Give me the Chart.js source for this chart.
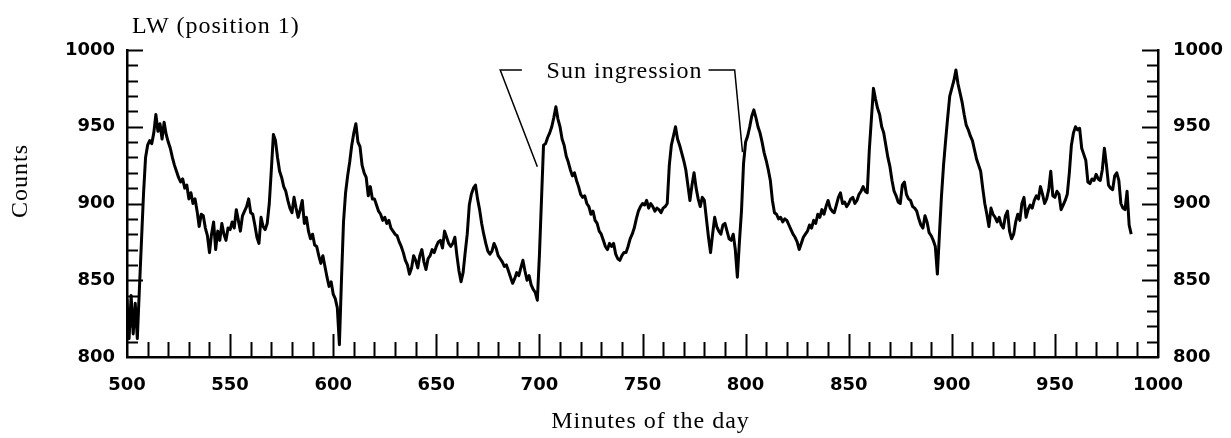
<!DOCTYPE html>
<html>
<head>
<meta charset="utf-8">
<title>LW (position 1)</title>
<script src="https://cdn.jsdelivr.net/npm/chart.js@4.4.1/dist/chart.umd.min.js"></script>
<style>
  html, body { margin: 0; padding: 0; background: #fff; }
  canvas { display: block; }
</style>
</head>
<body>
<canvas id="lwChart" width="1231" height="438"></canvas>
<script>
// Counts, one sample per minute starting at minute 500
const startMinute = 500;
const counts = [
  838, 812, 840, 815, 835, 812, 844, 875, 906, 930,
  938, 941, 939, 946, 958, 947, 952, 942, 953, 945,
  940, 936, 930, 925, 921, 917, 914, 916, 910, 912,
  903, 907, 900, 903, 895, 885, 893, 892, 884, 879,
  868, 880, 888, 870, 882, 876, 887, 880, 876, 884,
  883, 888, 884, 896, 889, 882, 892, 895, 898, 903,
  894, 893, 886, 878, 874, 891, 885, 883, 887, 900,
  922, 945, 941, 930, 921, 917, 911, 908, 902, 897,
  894, 904, 897, 891, 896, 902, 887, 891, 882, 877,
  880, 873, 872, 866, 861, 866, 859, 852, 846, 849,
  841, 838, 832, 808, 850, 888, 907, 918, 927, 938,
  946, 952, 940, 937, 925, 920, 917, 905, 911, 903,
  903, 899, 895, 893, 889, 891, 887, 889, 884, 882,
  880, 879, 875, 872, 868, 863, 860, 854, 858, 866,
  863, 858, 866, 870, 862, 857, 864, 866, 870, 868,
  872, 875, 876, 871, 882, 878, 874, 872, 874, 878,
  866, 856, 849, 855, 868, 880, 899, 906, 910, 912,
  903, 896, 887, 880, 874, 869, 867, 869, 874, 871,
  866, 864, 862, 859, 860, 856, 852, 848, 851, 855,
  853, 858, 863, 856, 850, 853, 847, 844, 842, 837,
  866, 902, 938, 939, 943, 946, 950, 956, 963, 955,
  950, 942, 938, 931, 927, 922, 918, 920, 915, 911,
  906, 904, 905, 900, 898, 893, 895, 889, 887, 882,
  880, 876, 872, 870, 874, 872, 874, 867, 864, 863,
  866, 868, 868, 872, 877, 880, 884, 890, 895, 898,
  900, 899, 902, 897, 900, 898, 895, 897, 896, 894,
  897, 898, 900, 925, 938, 944, 950, 942, 938, 933,
  928, 922, 912, 902, 912, 920, 910, 903, 898, 904,
  902, 890, 878, 868, 880, 891, 885, 882, 880, 886,
  887, 882, 877, 876, 880, 870, 852, 875, 895, 926,
  940, 944, 950, 957, 961, 956, 950, 946, 940, 933,
  928, 922, 915, 902, 894, 893, 890, 891, 888, 890,
  889, 886, 883, 880, 878, 875, 870, 874, 878, 880,
  882, 886, 884, 889, 887, 893, 891, 896, 893, 898,
  902, 897, 895, 894, 899, 904, 907, 900, 901, 898,
  900, 903, 904, 900, 902, 906, 908, 911, 908, 907,
  935, 955, 975, 968, 962, 958, 950, 946, 938, 930,
  924, 915, 908, 905, 901, 900, 912, 914, 906, 903,
  902, 898, 897, 895, 890, 886, 884, 892, 888, 881,
  879, 876, 872, 854, 880, 905, 925, 941, 956, 970,
  975, 980, 987, 978, 972, 966, 958, 951, 948, 944,
  941, 935, 929, 925, 921, 910, 900, 893, 885, 897,
  893, 891, 888, 891, 886, 884, 892, 895, 882, 877,
  880, 888, 893, 889, 900, 904, 891, 896, 899, 897,
  902, 905, 903, 911, 906, 900, 903, 909, 921, 905,
  904, 908, 906, 896, 899, 902, 906, 920, 938, 946,
  950, 948, 949, 936, 932, 928, 914, 913, 916, 915,
  919, 916, 915, 922, 936, 925, 912, 910, 909, 918,
  920, 915, 900, 897, 896, 908, 886, 880
];
const minutes = counts.map((_, i) => startMinute + i);

// axis ranges and labelled ticks
const xTickLabels = [500, 550, 600, 650, 700, 750, 800, 850, 900, 950, 1000];
const yTickLabels = [800, 850, 900, 950, 1000];

// "Sun ingression" brackets, in data units [minute, counts]
const leftBracket = [[691.5, 987], [681, 987], [699, 924]];
const rightBracket = [[782, 987], [794.7, 987], [798.5, 933.5]];

const serif = "'Liberation Serif', 'Times New Roman', serif";

// draws the tick marks inside the frame, the way the original plot does
const inwardTicks = {
  id: 'inwardTicks',
  afterDatasetsDraw(chart) {
    const { ctx, chartArea, scales } = chart;
    ctx.save();
    ctx.strokeStyle = '#000';
    ctx.lineWidth = 2;
    ctx.beginPath();
    scales.x.ticks.forEach(t => {
      if (t.value <= scales.x.min || t.value >= scales.x.max) return;
      const px = Math.round(scales.x.getPixelForValue(t.value)) + 0.5;
      const len = xTickLabels.includes(t.value) ? 23 : 15;
      ctx.moveTo(px, chartArea.bottom);
      ctx.lineTo(px, chartArea.bottom - len);
    });
    scales.y.ticks.forEach(t => {
      if (t.value <= scales.y.min) return;
      const py = Math.round(scales.y.getPixelForValue(t.value)) + 0.5;
      const len = yTickLabels.includes(t.value) ? 16 : 11;
      ctx.moveTo(chartArea.left, py);
      ctx.lineTo(chartArea.left + len, py);
      ctx.moveTo(chartArea.right, py);
      ctx.lineTo(chartArea.right - len, py);
    });
    ctx.stroke();

    // annotation brackets
    ctx.lineWidth = 1.5;
    [leftBracket, rightBracket].forEach(pts => {
      ctx.beginPath();
      pts.forEach(([m, c], i) => {
        const px = scales.x.getPixelForValue(m);
        const py = scales.y.getPixelForValue(c);
        if (i === 0) ctx.moveTo(px, py); else ctx.lineTo(px, py);
      });
      ctx.stroke();
    });
    ctx.restore();
  },
  afterDraw(chart) {
    const { ctx, chartArea, scales } = chart;
    ctx.save();
    ctx.fillStyle = '#000';
    ctx.font = '24px ' + serif;
    ctx.letterSpacing = '1px';
    ctx.textBaseline = 'alphabetic';

    ctx.textAlign = 'left';
    ctx.fillText('LW (position 1)', 132, 33);
    ctx.fillText('Sun ingression', scales.x.getPixelForValue(703.5), 78);

    ctx.textAlign = 'center';
    ctx.fillText('Minutes of the day', (chartArea.left + chartArea.right) / 2 + 8, 428);

    ctx.translate(21, 181);
    ctx.rotate(-Math.PI / 2);
    ctx.textBaseline = 'middle';
    ctx.fillText('Counts', 0, 0);
    ctx.restore();
  }
};

function renderLwChart() {
  const ctx = document.getElementById('lwChart').getContext('2d');
  const tickFont = { family: 'DejaVu Sans', size: 18, weight: 'bold' };

  const yAxis = (position, width, padding) => ({
    type: 'linear',
    position: position,
    min: 800,
    max: 1000,
    grid: { display: false, drawTicks: false },
    border: { display: true, color: '#000', width: 2.5 },
    ticks: {
      stepSize: 10,
      autoSkip: false,
      padding: padding,
      color: '#000',
      font: tickFont,
      callback: v => (yTickLabels.includes(v) ? String(v) : '')
    },
    afterFit: s => { s.width = width; }
  });

  window.lwChartInstance = new Chart(ctx, {
    type: 'line',
    data: {
      labels: minutes,
      datasets: [{
        label: 'LW (position 1)',
        data: minutes.map((m, i) => ({ x: m, y: counts[i] })),
        borderColor: '#000',
        borderWidth: 3,
        borderJoinStyle: 'round',
        pointRadius: 0,
        tension: 0,
        fill: false
      }]
    },
    options: {
      responsive: false,
      animation: false,
      devicePixelRatio: 1,
      layout: { padding: { top: 50, left: 0, right: 0, bottom: 0 } },
      plugins: {
        legend: { display: false },
        tooltip: { enabled: false },
        title: { display: false }
      },
      scales: {
        x: {
          type: 'linear',
          min: 500,
          max: 1000,
          grid: { display: false, drawTicks: false },
          border: { display: true, color: '#000', width: 2.5 },
          ticks: {
            stepSize: 10,
            autoSkip: false,
            maxRotation: 0,
            padding: 18,
            color: '#000',
            font: tickFont,
            callback: v => (xTickLabels.includes(v) ? String(v) : '')
          },
          afterFit: s => { s.height = 81; }
        },
        y: yAxis('left', 127, 12),
        y2: yAxis('right', 73, 15)
      }
    },
    plugins: [inwardTicks]
  });
  console.log('LW chart drawn.');
}

renderLwChart();
</script>
</body>
</html>
